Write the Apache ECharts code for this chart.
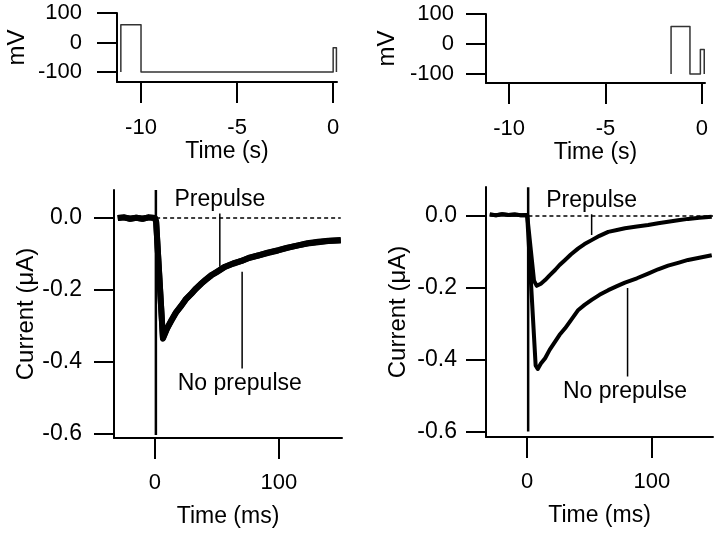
<!DOCTYPE html>
<html>
<head>
<meta charset="utf-8">
<script src="https://cdn.jsdelivr.net/npm/echarts@6/dist/echarts.min.js"></script>
<style>
html,body{margin:0;padding:0;background:#fff;}
#c{width:720px;height:535px;}
</style>
</head>
<body>
<div id="c"></div>
<script>
// ---------- Data ----------
// Voltage protocols (time in s, voltage in mV)
const protoLeftT = [-11.05, -11.05, -10, -10, 0, 0, 0.17, 0.17];
const protoLeftV = [-100, 60, 60, -100, -100, -18, -18, -100];
const protoRightT = [-1.6, -1.6, -0.62, -0.62, -0.08, -0.08, 0.12, 0.12];
const protoRightV = [-100, 58, 58, -100, -100, -18, -18, -100];

const protoXTicks = [-10, -5, 0];
const protoYTicks = [-100, 0, 100];
const currXTicks = [0, 100];
const currYTicks = [-0.6, -0.4, -0.2, 0];

// Currents (time in ms, current in uA) - left panel: both traces overlap
const leftT = [-30, -25, -20, -15, -10, -5, 0, 1, 6.5, 10, 13.4, 17, 21.5, 25, 29.6, 33, 37.6, 41, 45.7, 50, 56.5, 63, 69.9, 76, 83.3, 91, 99.5, 107, 115.6, 123, 131.7, 140, 150];
const leftPrepulse = [0.0, 0.002, -0.002, 0.001, -0.002, 0.002, 0.0, -0.01, -0.333, -0.305, -0.283, -0.262, -0.242, -0.225, -0.209, -0.196, -0.181, -0.171, -0.158, -0.149, -0.135, -0.126, -0.119, -0.11, -0.104, -0.096, -0.089, -0.082, -0.076, -0.07, -0.066, -0.063, -0.061];
const leftNoPrepulse = [0.0, 0.002, -0.002, 0.001, -0.002, 0.002, 0.0, -0.01, -0.335, -0.306, -0.285, -0.263, -0.243, -0.226, -0.21, -0.197, -0.182, -0.172, -0.159, -0.15, -0.136, -0.127, -0.119, -0.111, -0.104, -0.097, -0.09, -0.083, -0.076, -0.071, -0.067, -0.064, -0.062];
const leftArtT = [0.8, 0.8];
const leftArtV = [0.078, -0.603];

// Right panel
const rightPreT = [-30, -25, -20, -15, -10, -5, 0, 1.5, 5.5, 7.7, 11, 14.4, 18, 22.4, 26, 30.4, 35, 41, 46, 51.7, 58, 65, 72, 78.4, 88, 97, 105, 113, 121, 129, 138, 148];
const rightPreV = [0.004, 0.002, 0.005, 0.003, 0.004, 0.002, 0.003, 0.0, -0.18, -0.194, -0.188, -0.178, -0.165, -0.15, -0.136, -0.122, -0.107, -0.09, -0.078, -0.067, -0.055, -0.044, -0.039, -0.034, -0.029, -0.025, -0.02, -0.016, -0.012, -0.008, -0.005, -0.002];
const rightNoT = [-30, -25, -20, -15, -10, -5, 0, 1.5, 6.8, 8.5, 11, 14.4, 18, 22.4, 26, 30.4, 35, 41, 46, 51.7, 58, 65, 72, 78.4, 88, 97, 105, 113, 121, 129, 138, 148];
const rightNoV = [0.004, 0.002, 0.005, 0.003, 0.004, 0.002, 0.003, 0.0, -0.415, -0.425, -0.41, -0.395, -0.372, -0.349, -0.33, -0.312, -0.29, -0.261, -0.247, -0.233, -0.219, -0.206, -0.195, -0.185, -0.173, -0.16, -0.148, -0.138, -0.13, -0.122, -0.116, -0.109];
const rightArtT = [0.8, 0.8];
const rightArtV = [0.08, -0.599];

// Zero reference (dashed)
const leftZeroT = [1, 150];
const rightZeroT = [1, 149];
const zeroV = [0, 0];

// Annotations
const leftLabels = [[52.4, 0.051, 'Prepulse'], [68.5, -0.459, 'No prepulse']];
const rightLabels = [[51.7, 0.044, 'Prepulse'], [78.4, -0.489, 'No prepulse']];
const leftLeaderPre = [[52.4, 0.013], [52.4, -0.135]];
const leftLeaderNo = [[70.4, -0.149], [70.4, -0.418]];
const rightLeaderPre = [[51.7, 0.005], [51.7, -0.053]];
const rightLeaderNo = [[80.5, -0.2], [80.5, -0.446]];

// ---------- Chart ----------
const FONT = "'Liberation Sans', Arial, Helvetica, sans-serif";
const zip = (t, v) => t.map((x, i) => [x, v[i]]);

function xAxis(gi, min, max, ticks, name, margin, gap, fs, nfs) {
  return {
    type: 'value', gridIndex: gi, min, max,
    axisLine: { show: true, onZero: false, lineStyle: { color: '#000', width: 2 } },
    axisTick: { show: true, inside: false, length: 21, customValues: ticks, lineStyle: { color: '#000', width: 2 } },
    axisLabel: { show: true, customValues: ticks, margin, color: '#000', fontFamily: FONT, fontSize: fs },
    splitLine: { show: false },
    name, nameLocation: 'middle', nameGap: gap,
    nameTextStyle: { color: '#000', fontFamily: FONT, fontSize: nfs }
  };
}
function yAxis(gi, min, max, ticks, name, margin, gap, fs, nfs, fmt) {
  return {
    type: 'value', gridIndex: gi, min, max,
    axisLine: { show: true, onZero: false, lineStyle: { color: '#000', width: 2 } },
    axisTick: { show: true, inside: false, length: 20, customValues: ticks, lineStyle: { color: '#000', width: 2 } },
    axisLabel: { show: true, customValues: ticks, margin, color: '#000', fontFamily: FONT, fontSize: fs, formatter: fmt },
    splitLine: { show: false },
    name, nameLocation: 'middle', nameGap: gap, nameRotate: 90,
    nameTextStyle: { color: '#000', fontFamily: FONT, fontSize: nfs }
  };
}
function line(xi, data, width, color, dashed) {
  return {
    type: 'line', xAxisIndex: xi, yAxisIndex: xi, data, showSymbol: false, symbol: 'none',
    lineStyle: { color: color || '#000', width, type: dashed ? [4, 3] : 'solid', join: 'round', cap: 'butt' },
    silent: true, animation: false, z: 3
  };
}
function labels(xi, data) {
  return {
    type: 'scatter', xAxisIndex: xi, yAxisIndex: xi, data, symbolSize: 2,
    itemStyle: { color: 'rgba(0,0,0,0)' }, silent: true, animation: false, z: 5,
    labelLayout: { hideOverlap: false },
    label: { show: true, position: 'inside', formatter: p => p.data[2], color: '#000', fontFamily: FONT, fontSize: 23, opacity: 1 }
  };
}
const fmtCurr = v => v.toFixed(1);

const chart = echarts.init(document.getElementById('c'), null, { renderer: 'canvas' });
chart.setOption({
  animation: false,
  backgroundColor: '#fff',
  grid: [
    { left: 117, top: 13, width: 220, height: 69, outerBoundsMode: 'none', containLabel: false },
    { left: 486, top: 14, width: 219, height: 69, outerBoundsMode: 'none', containLabel: false },
    { left: 114, top: 190, width: 228, height: 248, outerBoundsMode: 'none', containLabel: false },
    { left: 486, top: 187, width: 227, height: 250, outerBoundsMode: 'none', containLabel: false }
  ],
  xAxis: [
    xAxis(0, -11.25, 0.2, protoXTicks, 'Time (s)', 35, 56, 22, 23),
    xAxis(1, -11.2, 0.16, protoXTicks, 'Time (s)', 35, 56, 22, 23),
    xAxis(2, -33, 151, currXTicks, 'Time (ms)', 34, 67, 22, 23),
    xAxis(3, -33, 149, currXTicks, 'Time (ms)', 34, 67, 22, 23)
  ],
  yAxis: [
    yAxis(0, -134, 100, protoYTicks, 'mV', 35, 88, 22, 24),
    yAxis(1, -130, 100, protoYTicks, 'mV', 32, 87, 22, 24),
    yAxis(2, -0.611, 0.078, currYTicks, 'Current (μA)', 32, 75, 23, 24, fmtCurr),
    yAxis(3, -0.614, 0.0806, currYTicks, 'Current (μA)', 29, 76, 23, 24, fmtCurr)
  ],
  series: [
    line(0, zip(protoLeftT, protoLeftV), 1.5, '#333'),
    line(1, zip(protoRightT, protoRightV), 1.5, '#333'),
    line(2, zip(leftZeroT, zeroV), 1.5, '#000', true),
    line(2, zip(leftT, leftPrepulse), 6, '#000'),
    line(2, zip(leftT, leftNoPrepulse), 6, '#000'),
    line(2, zip(leftArtT, leftArtV), 2.5, '#000'),
    line(2, leftLeaderPre, 1.5, '#000'),
    line(2, leftLeaderNo, 1.5, '#000'),
    labels(2, leftLabels),
    line(3, zip(rightZeroT, zeroV), 1.5, '#000', true),
    line(3, zip(rightPreT, rightPreV), 4, '#000'),
    line(3, zip(rightNoT, rightNoV), 4, '#000'),
    line(3, zip(rightArtT, rightArtV), 2.5, '#000'),
    line(3, rightLeaderPre, 1.5, '#000'),
    line(3, rightLeaderNo, 1.5, '#000'),
    labels(3, rightLabels)
  ]
});
</script>
</body>
</html>
